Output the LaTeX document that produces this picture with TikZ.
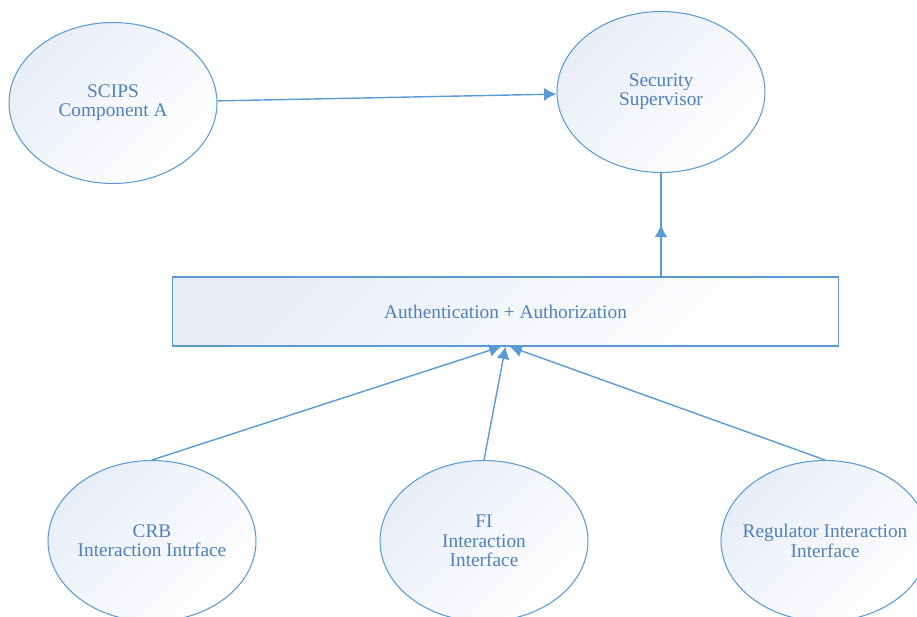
\documentclass[tikz,border=0pt]{standalone}
\usepackage{xcolor}
\usepackage{fontspec}
\setmainfont{Liberation Serif}
\usepackage{tikz}
\usetikzlibrary{calc}
\usetikzlibrary{arrows.meta}
\usetikzlibrary{shapes.geometric}
\usetikzlibrary{decorations.markings}
\definecolor{linecol}{RGB}{91,155,213}
\definecolor{textcol}{RGB}{79,129,189}
\definecolor{shadecol}{RGB}{232,237,248}
\tikzset{>={Latex[length=2.5mm,width=2.6mm]}}
\tikzstyle{proc} = [ellipse, draw=linecol, line width=0.6pt, inner sep=0pt,
  inner xsep=-8pt, minimum width=4.16cm, minimum height=3.22cm,
  align=center, text=textcol, font=\fontsize{11}{11}\selectfont,
  top color=shadecol, bottom color=white, shading angle=45]
\tikzstyle{layer} = [rectangle, draw=linecol, line width=0.6pt, inner sep=0pt,
  minimum width=13.34cm, minimum height=1.38cm, text=textcol,
  font=\fontsize{11}{11}\selectfont,
  top color=shadecol, bottom color=white, shading angle=45]
\tikzstyle{flow} = [->, draw=linecol, line width=0.8pt]
\tikzstyle{midflow} = [-, draw=linecol, line width=0.8pt,
  postaction = {decorate},
  decoration = {markings, mark = at position 0.5 with {\arrow{>}}}]

\begin{document}
\begin{tikzpicture}[x=0.02cm, y=-0.02cm]
\clip (0,0) rectangle (917,617);
\node [proc] (scips) at (113,103) {SCIPS\\Component A};
\node [proc] (sup) at (661,92) {Security\\Supervisor};
\node [layer] (auth) at (505.5,311.5) {Authentication + Authorization};
\node [proc] (crb) at (152,541) {CRB\\Interaction Intrface};
\node [proc] (fi) at (484,541) {FI\\Interaction\\Interface};
\node [proc] (reg) at (825,541) {Regulator Interaction\\Interface};
% links
\draw [flow] (scips) to (sup);
\draw [midflow] (auth.north -| sup.south) to (sup.south);
\draw [flow] (crb.north) to ($(auth.south)+(-4,0)$);
\draw [flow] (fi.north) to (auth.south);
\draw [flow] (reg.north) to ($(auth.south)+(4,0)$);
\end{tikzpicture}
\end{document}
